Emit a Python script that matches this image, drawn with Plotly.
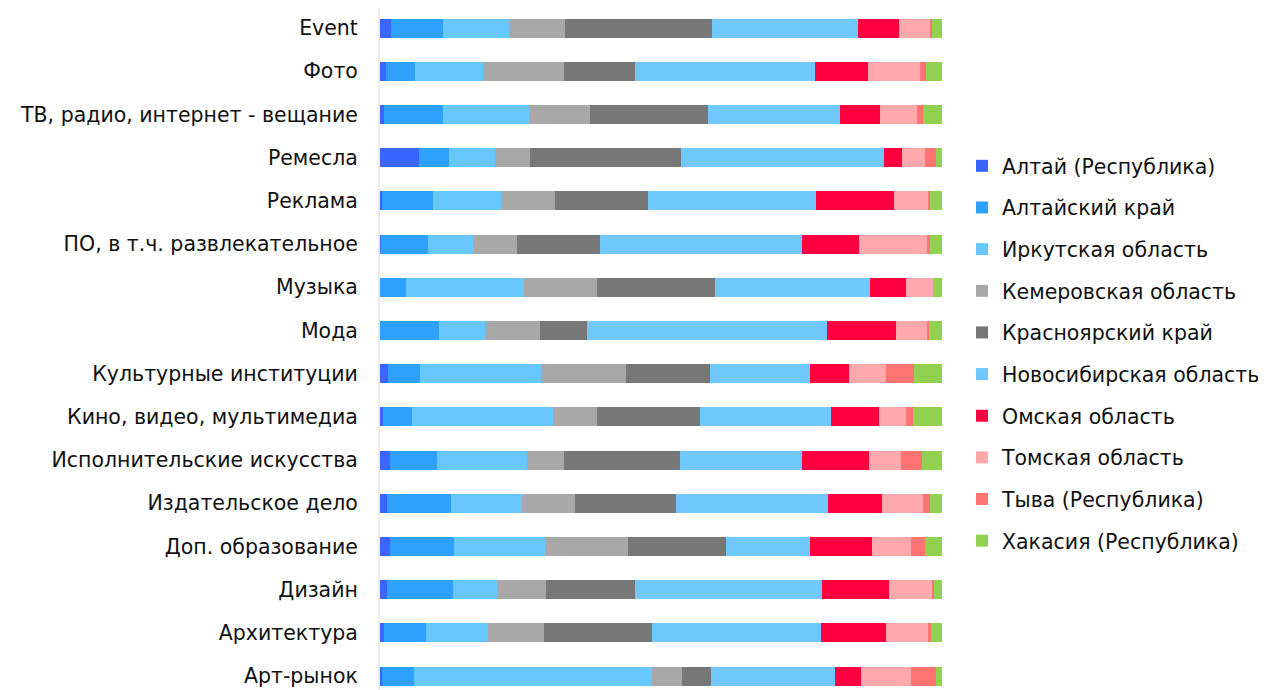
import plotly.graph_objects as go

categories = [
    "Event", "Фото", "ТВ, радио, интернет - вещание", "Ремесла", "Реклама",
    "ПО, в т.ч. развлекательное", "Музыка", "Мода", "Культурные институции",
    "Кино, видео, мультимедиа", "Исполнительские искусства", "Издательское дело",
    "Доп. образование", "Дизайн", "Архитектура", "Арт-рынок",
]

series_names = [
    "Алтай (Республика)", "Алтайский край", "Иркутская область",
    "Кемеровская область", "Красноярский край", "Новосибирская область",
    "Омская область", "Томская область", "Тыва (Республика)",
    "Хакасия (Республика)",
]

# shares (%) per region, categories in the order above
altai_rep = [2.0, 1.0, 0.7, 6.9, 0.4, 0.2, 0.0, 0.0, 1.4, 0.6, 1.8, 1.2, 1.8, 1.3, 0.7, 0.4]
altai_krai = [9.2, 5.3, 10.5, 5.3, 9.1, 8.3, 4.7, 10.5, 5.7, 5.1, 8.4, 11.4, 11.3, 11.7, 7.5, 5.7]
irkutsk = [11.7, 12.0, 15.4, 8.3, 12.1, 8.1, 21.0, 8.2, 21.6, 25.1, 15.9, 12.7, 16.3, 7.8, 11.1, 42.3]
kemerovo = [10.0, 14.4, 10.8, 6.2, 9.6, 7.8, 12.9, 9.7, 15.0, 7.8, 6.6, 9.3, 14.8, 8.6, 9.9, 5.3]
krasnoyarsk = [26.3, 12.7, 21.0, 26.8, 16.4, 14.7, 21.0, 8.4, 15.1, 18.4, 20.8, 18.0, 17.4, 15.9, 19.3, 5.2]
novosibirsk = [25.9, 32.0, 23.5, 36.2, 29.9, 36.1, 27.6, 42.6, 17.7, 23.3, 21.7, 27.0, 15.0, 33.2, 30.1, 22.0]
omsk = [7.3, 9.5, 7.2, 3.1, 14.0, 10.2, 6.4, 12.3, 6.9, 8.6, 11.9, 9.7, 11.0, 11.8, 11.6, 4.6]
tomsk = [5.5, 9.1, 6.5, 4.2, 6.1, 12.0, 4.9, 5.6, 6.6, 4.8, 5.7, 7.3, 6.9, 7.8, 7.5, 8.9]
tyva = [0.5, 1.2, 1.2, 2.0, 0.3, 0.5, 0.0, 0.2, 5.0, 1.3, 3.7, 1.2, 2.4, 0.2, 0.5, 4.5]
khakasia = [1.7, 2.8, 3.3, 1.0, 2.1, 2.2, 1.6, 2.4, 5.0, 5.1, 3.6, 2.1, 3.1, 1.5, 2.0, 1.1]

series_values = [altai_rep, altai_krai, irkutsk, kemerovo, krasnoyarsk,
                 novosibirsk, omsk, tomsk, tyva, khakasia]

colors = ["#3A66FF", "#2EA1FF", "#69C7FF", "#A8A8A8", "#777777",
          "#70C8FF", "#FF0040", "#FFA9AC", "#FF7373", "#92D050"]

FONT = "DejaVu Sans"
FS = 20.5
W, H = 1266, 682

fig = go.Figure()
for name, vals, col in zip(series_names, series_values, colors):
    fig.add_trace(go.Bar(
        y=categories, x=vals, name=name, orientation="h",
        marker=dict(color=col, line=dict(width=0)),
        legendgroup=name,
        hoverinfo="name+x",
    ))

fig.update_layout(
    width=W, height=H,
    barmode="stack", barnorm="percent", bargap=0.56,
    paper_bgcolor="white", plot_bgcolor="white",
    margin=dict(l=372, r=W - 934, t=0, b=0),
    font=dict(family=FONT, size=FS, color="#111111"),
    xaxis=dict(range=[0, 100], visible=False, showgrid=False, zeroline=False),
    yaxis=dict(
        categoryorder="array", categoryarray=categories,
        range=[15.324, -0.463],
        showgrid=False, zeroline=False,
        showline=True, linecolor="#EBEBEB", linewidth=2,
        ticks="", ticklabelstandoff=16,
        tickfont=dict(family=FONT, size=FS, color="#111111"),
    ),
    legend=dict(
        xref="container", yref="container",
        x=954 / W, y=1 - 138 / H, xanchor="left", yanchor="top",
        traceorder="grouped", tracegroupgap=12, maxheight=600,
        font=dict(family=FONT, size=FS, color="#111111"),
        bgcolor="rgba(0,0,0,0)", borderwidth=0,
    ),
    showlegend=True,
)

fig.write_html("out.html")
